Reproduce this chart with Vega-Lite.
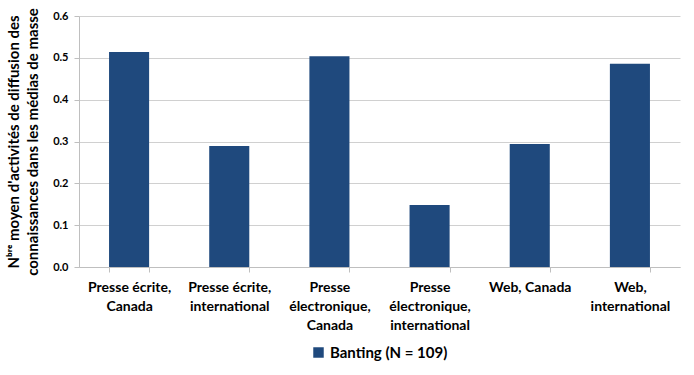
{
  "$schema": "https://vega.github.io/schema/vega-lite/v6.json",
  "width": 694,
  "height": 375,
  "autosize": {"type": "fit", "contains": "padding"},
  "padding": {"left": 6, "right": 14, "top": 10, "bottom": 14},
  "background": "white",
  "data": {
    "values": [
      {"media": "Presse écrite,|Canada", "serie": "Banting (N = 109)", "valeur": 0.514},
      {"media": "Presse écrite,|international", "serie": "Banting (N = 109)", "valeur": 0.289},
      {"media": "Presse|électronique,|Canada", "serie": "Banting (N = 109)", "valeur": 0.504},
      {"media": "Presse|électronique,|international", "serie": "Banting (N = 109)", "valeur": 0.148},
      {"media": "Web, Canada", "serie": "Banting (N = 109)", "valeur": 0.294},
      {"media": "Web,|international", "serie": "Banting (N = 109)", "valeur": 0.486}
    ]
  },
  "mark": {"type": "bar"},
  "encoding": {
    "x": {
      "field": "media",
      "type": "nominal",
      "sort": null,
      "scale": {"paddingInner": 0.6, "paddingOuter": 0.3},
      "axis": {
        "title": null,
        "labelAngle": 0,
        "labelExpr": "datum.label ? split(datum.label, '|') : ''",
        "labelFont": "Lato",
        "labelFontWeight": "bold",
        "labelFontSize": 14,
        "labelLineHeight": 19,
        "labelColor": "#000000",
        "labelPadding": 8,
        "tickBand": "extent",
        "domainColor": "#bfbfbf",
        "tickColor": "#bfbfbf",
        "tickSize": 5
      }
    },
    "y": {
      "field": "valeur",
      "type": "quantitative",
      "scale": {"domain": [0, 0.6], "nice": false},
      "axis": {
        "title": ["Nᵇʳᵉ moyen d'activités  de diffusion des", "connaissances dans les médias de masse"],
        "titleFont": "Lato",
        "titleFontWeight": "bold",
        "titleFontSize": 15,
        "titleColor": "#000000",
        "titleLineHeight": 19,
        "titlePadding": 12,
        "values": [0, 0.1, 0.2, 0.3, 0.4, 0.5, 0.6],
        "labelOverlap": false,
        "format": ".1f",
        "labelFont": "Lato",
        "labelFontWeight": "bold",
        "labelFontSize": 11,
        "labelColor": "#000000",
        "labelPadding": 6,
        "gridColor": "#d0d0d0",
        "domainColor": "#bfbfbf",
        "tickColor": "#bfbfbf",
        "tickSize": 5
      }
    },
    "color": {
      "field": "serie",
      "type": "nominal",
      "scale": {"range": ["#1f497d"]},
      "legend": {
        "title": null,
        "orient": "bottom",
        "direction": "horizontal",
        "symbolType": "square",
        "symbolSize": 110,
        "labelFont": "Lato",
        "labelFontWeight": "bold",
        "labelFontSize": 15,
        "labelColor": "#000000",
        "offset": 13
      }
    }
  },
  "config": {
    "view": {"stroke": null},
    "legend": {"layout": {"bottom": {"anchor": "middle"}}}
  }
}
